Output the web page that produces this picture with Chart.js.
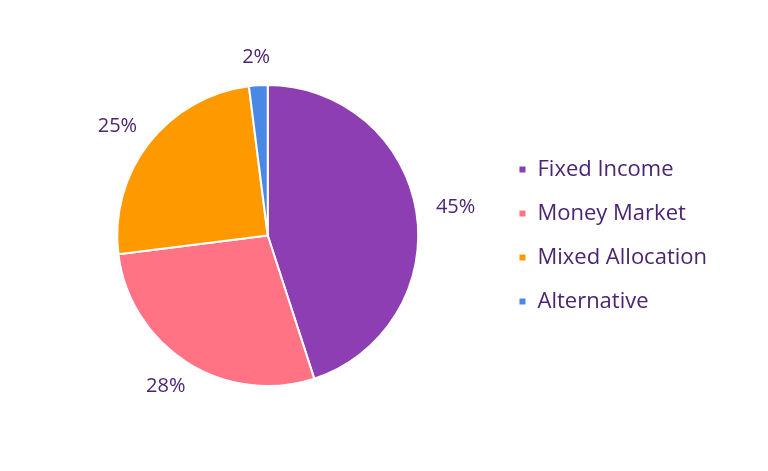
<!DOCTYPE html>
<html>
<head>
<meta charset="utf-8">
<script src="https://cdn.jsdelivr.net/npm/chart.js@4"></script>
<style>
  html, body { margin: 0; padding: 0; background: #fff; }
  #wrap { width: 768px; height: 471px; position: relative; }
</style>
</head>
<body>
<div id="wrap"><canvas id="pieChart"></canvas></div>
<script>
// dados do gráfico
const categories = ['Fixed Income', 'Money Market', 'Mixed Allocation', 'Alternative'];
const shares = [45, 28, 25, 2];
const sliceColors = ['#8E3EB3', '#FF7385', '#FF9900', '#4A88E6'];

const textColor = '#4B2474';
const fontFamily = '"Open Sans", sans-serif';

// rótulos de porcentagem fora da pizza
const outsideLabels = {
  id: 'outsideLabels',
  afterDatasetsDraw(chart) {
    const ctx = chart.ctx;
    const meta = chart.getDatasetMeta(0);
    ctx.save();
    ctx.font = '20px ' + fontFamily;
    ctx.fillStyle = textColor;
    ctx.textAlign = 'center';
    ctx.textBaseline = 'middle';
    meta.data.forEach((arc, i) => {
      const p = arc.getProps(['x', 'y', 'startAngle', 'endAngle', 'outerRadius'], true);
      const mid = (p.startAngle + p.endAngle) / 2;
      const txt = shares[i] + '%';
      const w = ctx.measureText(txt).width;
      const h = 16;
      const r = p.outerRadius + 20;
      // empurra a caixa do texto para fora do círculo
      const x = p.x + Math.cos(mid) * (r + w / 2);
      const y = p.y + Math.sin(mid) * (r + h / 2);
      ctx.fillText(txt, x, y);
    });
    ctx.restore();
  }
};

new Chart(document.getElementById('pieChart'), {
  type: 'pie',
  data: {
    labels: categories,
    datasets: [{
      data: shares,
      backgroundColor: sliceColors,
      borderColor: '#ffffff',
      borderWidth: 2
    }]
  },
  options: {
    responsive: true,
    maintainAspectRatio: false,
    animation: false,
    layout: { padding: { left: 39, right: 51, top: 84, bottom: 84 } },
    plugins: {
      tooltip: { enabled: false },
      legend: {
        position: 'right',
        labels: {
          boxWidth: 8,
          boxHeight: 8,
          padding: 22,
          color: textColor,
          font: { family: fontFamily, size: 22 }
        }
      }
    }
  },
  plugins: [outsideLabels]
});
</script>
</body>
</html>
